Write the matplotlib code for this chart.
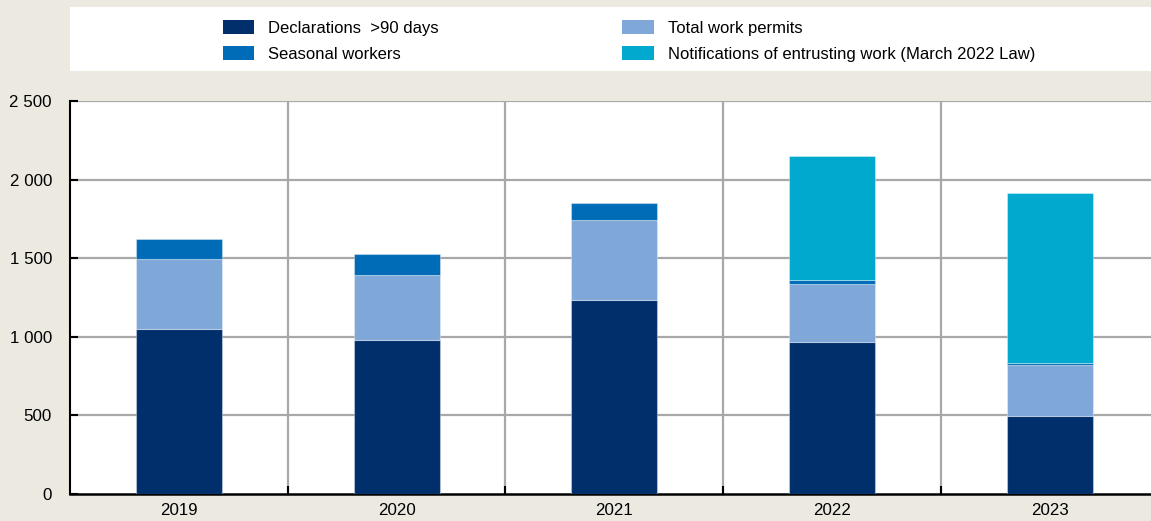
import numpy as np
import matplotlib

matplotlib.use("Agg")
import matplotlib.pyplot as plt
from matplotlib.patches import Rectangle, Patch

plt.rcParams["font.family"] = ["Liberation Sans", "DejaVu Sans"]

# data (thousands)
YEARS = ["2019", "2020", "2021", "2022", "2023"]
DECLARATIONS = [1046, 979, 1232, 967, 496]
PERMITS = [447, 412, 509, 371, 324]
SEASONAL = [129, 136, 108, 21, 11]
NOTIFICATIONS = [0, 0, 0, 789, 1084]

LABELS = [
    "Declarations  >90 days",
    "Seasonal workers",
    "Total work permits",
    "Notifications of entrusting work (March 2022 Law)",
]
COLORS = ["#002F6C", "#006BB6", "#7FA7D8", "#00A9CD"]

BG = "#ECEAE0"
GRID = "#A8A8A8"
W, H = 1151, 521

fig = plt.figure(figsize=(W / 100, H / 100), dpi=100, facecolor=BG)

# white legend band at top
fig.patches.append(Rectangle((70 / W, 1 - 71 / H), (W - 70) / W, 64 / H,
                             transform=fig.transFigure, facecolor="white",
                             edgecolor="none", zorder=0))

ax = fig.add_axes([70 / W, (H - 493.7) / H, 1088.5 / W, 392.7 / H])
ax.set_facecolor("white")

x = np.arange(len(YEARS))
bw = 0.395
edge = dict(edgecolor=(1, 1, 1, 0.35), linewidth=0.8)
b0 = np.array(DECLARATIONS, dtype=float)
b1 = b0 + np.array(PERMITS)
b2 = b1 + np.array(SEASONAL)
ax.bar(x, DECLARATIONS, bw, color=COLORS[0], zorder=3, **edge)
ax.bar(x, PERMITS, bw, bottom=b0, color=COLORS[2], zorder=3, **edge)
ax.bar(x, SEASONAL, bw, bottom=b1, color=COLORS[1], zorder=3, **edge)
notif = np.array(NOTIFICATIONS, dtype=float)
mask = notif > 0
ax.bar(x[mask], notif[mask], bw, bottom=b2[mask], color=COLORS[3], zorder=3, **edge)

ax.set_xlim(-0.5, len(YEARS) - 0.5)
ax.set_ylim(0, 2500)
yt = [0, 500, 1000, 1500, 2000, 2500]
ax.set_yticks(yt)
ax.set_yticklabels(["0", "500", "1 000", "1 500", "2 000", "2 500"], fontsize=12.2)
ax.set_xticks(x)
ax.set_xticklabels(YEARS, fontsize=12.2)
ax.tick_params(axis="x", length=0, pad=7)
ax.tick_params(axis="y", direction="in", length=6, width=1.5, color="black", pad=13)

# category boundary ticks and grid
bounds = np.arange(0.5, len(YEARS) - 0.5, 1.0)
ax.set_xticks(bounds, minor=True)
ax.tick_params(axis="x", which="minor", direction="in", length=6, width=1.5, color="black")
for b in bounds:
    ax.axvline(b, color=GRID, lw=1.6, zorder=1)
for t in yt[1:]:
    ax.axhline(t, color=GRID, lw=1.6, zorder=1)

for s in ["top", "right"]:
    ax.spines[s].set_visible(False)
ax.spines["left"].set_linewidth(1.5)
ax.spines["bottom"].set_linewidth(1.8)

handles = [Patch(facecolor=c, edgecolor="none") for c in COLORS]
fig.legend(handles, LABELS, loc="upper left", bbox_to_anchor=(216 / W, 1 - 13 / H),
           ncol=2, frameon=False, fontsize=12, handlelength=1.9, handleheight=0.95,
           handletextpad=0.85, columnspacing=11.0, labelspacing=0.62, borderaxespad=0)

fig.savefig("out.png", dpi=100, facecolor=BG)
